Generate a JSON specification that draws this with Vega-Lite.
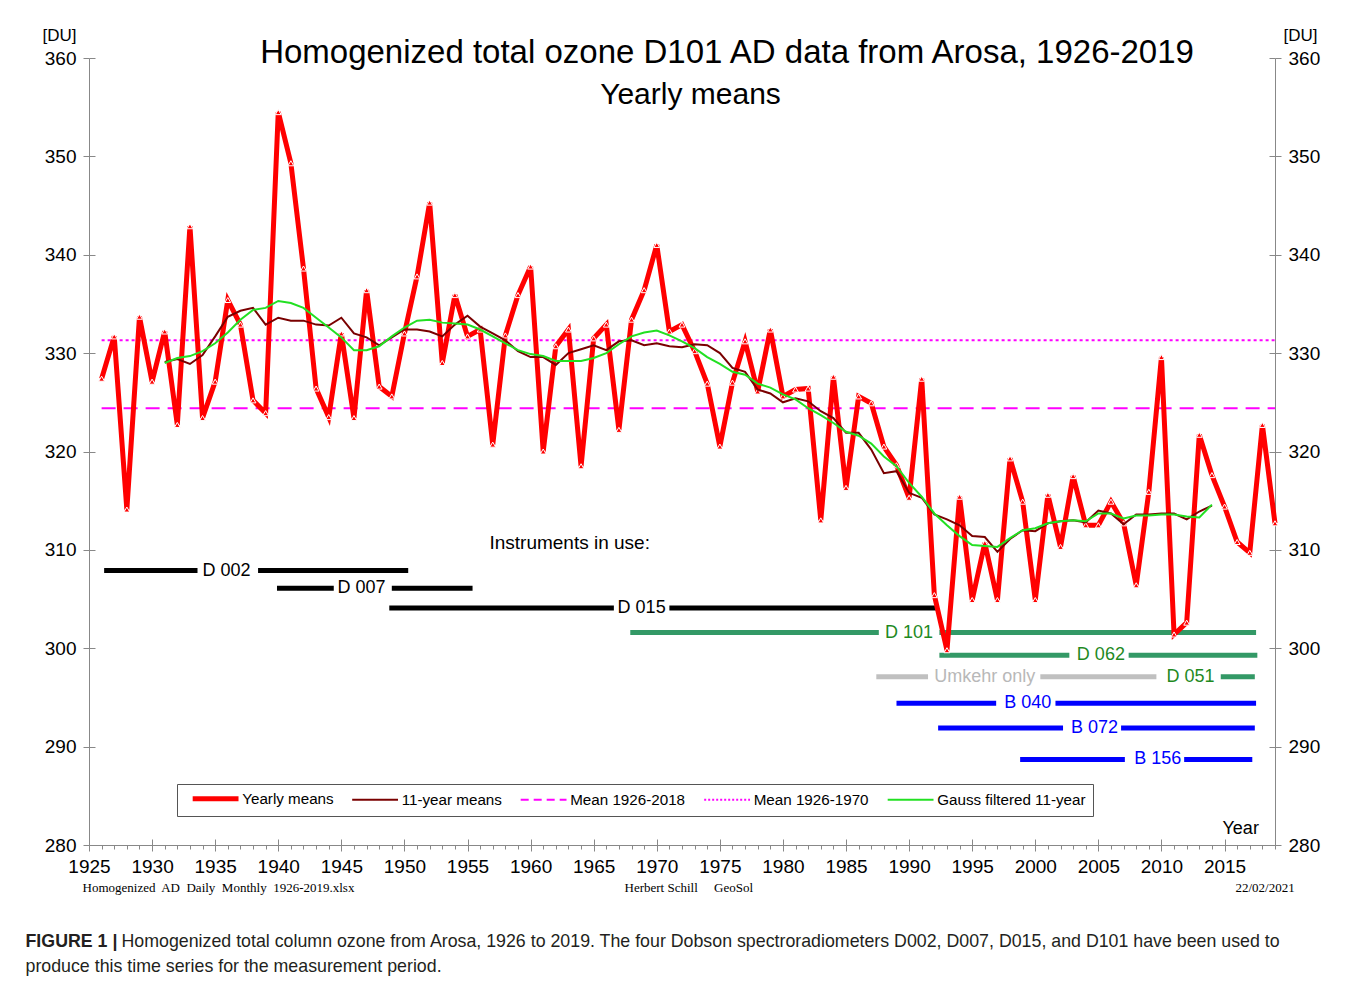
{
  "$schema": "https://vega.github.io/schema/vega-lite/v6.json",
  "width": 1186,
  "height": 787,
  "autosize": {"type": "none"},
  "padding": {"left": 89, "top": 58, "right": 82, "bottom": 137},
  "background": "white",
  "config": {
    "view": {"stroke": null},
    "font": "Liberation Sans",
    "axis": {"grid": false, "domainColor": "#888888", "tickColor": "#888888", "labelColor": "#000000", "titleColor": "#000000", "labelFont": "Liberation Sans", "titleFont": "Liberation Sans", "titleFontWeight": "normal", "domainWidth": 1, "tickWidth": 1, "labelFlush": false}
  },
  "title": {
    "text": "Homogenized total ozone D101 AD data from Arosa, 1926-2019",
    "font": "Liberation Sans",
    "fontSize": 33,
    "fontWeight": "normal",
    "color": "#000000",
    "anchor": "middle",
    "frame": "group",
    "baseline": "alphabetic",
    "offset": -6,
    "dx": 45,
    "dy": 64
  },
  "resolve": {"axis": {"x": "independent", "y": "independent"}},
  "datasets": {
    "ts": [
      {"year":1926,"series":"Yearly means","du":327.4},{"year":1927,"series":"Yearly means","du":331.7},{"year":1928,"series":"Yearly means","du":314.1},{"year":1929,"series":"Yearly means","du":333.7},{"year":1930,"series":"Yearly means","du":327.1},
      {"year":1931,"series":"Yearly means","du":332.2},{"year":1932,"series":"Yearly means","du":322.7},{"year":1933,"series":"Yearly means","du":342.9},{"year":1934,"series":"Yearly means","du":323.4},{"year":1935,"series":"Yearly means","du":327.1},
      {"year":1936,"series":"Yearly means","du":335.4},{"year":1937,"series":"Yearly means","du":332.9},{"year":1938,"series":"Yearly means","du":325.2},{"year":1939,"series":"Yearly means","du":323.9},{"year":1940,"series":"Yearly means","du":354.5},
      {"year":1941,"series":"Yearly means","du":349.3},{"year":1942,"series":"Yearly means","du":338.6},{"year":1943,"series":"Yearly means","du":326.4},{"year":1944,"series":"Yearly means","du":323.5},{"year":1945,"series":"Yearly means","du":332.0},
      {"year":1946,"series":"Yearly means","du":323.4},{"year":1947,"series":"Yearly means","du":336.4},{"year":1948,"series":"Yearly means","du":326.6},{"year":1949,"series":"Yearly means","du":325.6},{"year":1950,"series":"Yearly means","du":332.0},
      {"year":1951,"series":"Yearly means","du":337.8},{"year":1952,"series":"Yearly means","du":345.3},{"year":1953,"series":"Yearly means","du":329.0},{"year":1954,"series":"Yearly means","du":335.9},{"year":1955,"series":"Yearly means","du":331.7},
      {"year":1956,"series":"Yearly means","du":332.4},{"year":1957,"series":"Yearly means","du":320.7},{"year":1958,"series":"Yearly means","du":331.8},{"year":1959,"series":"Yearly means","du":335.9},{"year":1960,"series":"Yearly means","du":338.8},
      {"year":1961,"series":"Yearly means","du":320.0},{"year":1962,"series":"Yearly means","du":330.7},{"year":1963,"series":"Yearly means","du":332.4},{"year":1964,"series":"Yearly means","du":318.5},{"year":1965,"series":"Yearly means","du":331.5},
      {"year":1966,"series":"Yearly means","du":332.9},{"year":1967,"series":"Yearly means","du":322.2},{"year":1968,"series":"Yearly means","du":333.4},{"year":1969,"series":"Yearly means","du":336.4},{"year":1970,"series":"Yearly means","du":341.0},
      {"year":1971,"series":"Yearly means","du":332.2},{"year":1972,"series":"Yearly means","du":332.9},{"year":1973,"series":"Yearly means","du":330.2},{"year":1974,"series":"Yearly means","du":326.9},{"year":1975,"series":"Yearly means","du":320.5},
      {"year":1976,"series":"Yearly means","du":327.0},{"year":1977,"series":"Yearly means","du":331.2},{"year":1978,"series":"Yearly means","du":326.1},{"year":1979,"series":"Yearly means","du":332.4},{"year":1980,"series":"Yearly means","du":325.6},
      {"year":1981,"series":"Yearly means","du":326.3},{"year":1982,"series":"Yearly means","du":326.4},{"year":1983,"series":"Yearly means","du":313.0},{"year":1984,"series":"Yearly means","du":327.6},{"year":1985,"series":"Yearly means","du":316.3},
      {"year":1986,"series":"Yearly means","du":325.6},{"year":1987,"series":"Yearly means","du":324.9},{"year":1988,"series":"Yearly means","du":320.5},{"year":1989,"series":"Yearly means","du":318.6},{"year":1990,"series":"Yearly means","du":315.3},
      {"year":1991,"series":"Yearly means","du":327.4},{"year":1992,"series":"Yearly means","du":305.4},{"year":1993,"series":"Yearly means","du":299.8},{"year":1994,"series":"Yearly means","du":315.4},{"year":1995,"series":"Yearly means","du":304.9},
      {"year":1996,"series":"Yearly means","du":310.7},{"year":1997,"series":"Yearly means","du":304.9},{"year":1998,"series":"Yearly means","du":319.3},{"year":1999,"series":"Yearly means","du":314.9},{"year":2000,"series":"Yearly means","du":304.9},
      {"year":2001,"series":"Yearly means","du":315.6},{"year":2002,"series":"Yearly means","du":310.3},{"year":2003,"series":"Yearly means","du":317.5},{"year":2004,"series":"Yearly means","du":312.5},{"year":2005,"series":"Yearly means","du":312.5},
      {"year":2006,"series":"Yearly means","du":314.9},{"year":2007,"series":"Yearly means","du":312.7},{"year":2008,"series":"Yearly means","du":306.4},{"year":2009,"series":"Yearly means","du":315.9},{"year":2010,"series":"Yearly means","du":329.6},
      {"year":2011,"series":"Yearly means","du":301.4},{"year":2012,"series":"Yearly means","du":302.6},{"year":2013,"series":"Yearly means","du":321.7},{"year":2014,"series":"Yearly means","du":317.6},{"year":2015,"series":"Yearly means","du":314.4},
      {"year":2016,"series":"Yearly means","du":310.8},{"year":2017,"series":"Yearly means","du":309.7},{"year":2018,"series":"Yearly means","du":322.7},{"year":2019,"series":"Yearly means","du":312.7},

      {"year":1931,"series":"11-year means","du":329.1},{"year":1932,"series":"11-year means","du":329.4},{"year":1933,"series":"11-year means","du":328.9},{"year":1934,"series":"11-year means","du":329.8},{"year":1935,"series":"11-year means","du":331.7},
      {"year":1936,"series":"11-year means","du":333.7},{"year":1937,"series":"11-year means","du":334.3},{"year":1938,"series":"11-year means","du":334.6},{"year":1939,"series":"11-year means","du":332.9},{"year":1940,"series":"11-year means","du":333.6},
      {"year":1941,"series":"11-year means","du":333.3},{"year":1942,"series":"11-year means","du":333.3},{"year":1943,"series":"11-year means","du":332.9},{"year":1944,"series":"11-year means","du":332.8},{"year":1945,"series":"11-year means","du":333.6},
      {"year":1946,"series":"11-year means","du":332.0},{"year":1947,"series":"11-year means","du":331.6},{"year":1948,"series":"11-year means","du":330.8},{"year":1949,"series":"11-year means","du":331.6},{"year":1950,"series":"11-year means","du":332.4},
      {"year":1951,"series":"11-year means","du":332.4},{"year":1952,"series":"11-year means","du":332.2},{"year":1953,"series":"11-year means","du":331.7},{"year":1954,"series":"11-year means","du":332.9},{"year":1955,"series":"11-year means","du":333.8},
      {"year":1956,"series":"11-year means","du":332.7},{"year":1957,"series":"11-year means","du":332.0},{"year":1958,"series":"11-year means","du":331.3},{"year":1959,"series":"11-year means","du":330.2},{"year":1960,"series":"11-year means","du":329.6},
      {"year":1961,"series":"11-year means","du":329.6},{"year":1962,"series":"11-year means","du":328.8},{"year":1963,"series":"11-year means","du":330.0},{"year":1964,"series":"11-year means","du":330.4},{"year":1965,"series":"11-year means","du":330.8},
      {"year":1966,"series":"11-year means","du":330.3},{"year":1967,"series":"11-year means","du":331.2},{"year":1968,"series":"11-year means","du":331.3},{"year":1969,"series":"11-year means","du":330.8},{"year":1970,"series":"11-year means","du":331.0},
      {"year":1971,"series":"11-year means","du":330.7},{"year":1972,"series":"11-year means","du":330.6},{"year":1973,"series":"11-year means","du":330.9},{"year":1974,"series":"11-year means","du":330.8},{"year":1975,"series":"11-year means","du":330.0},
      {"year":1976,"series":"11-year means","du":328.5},{"year":1977,"series":"11-year means","du":328.1},{"year":1978,"series":"11-year means","du":326.3},{"year":1979,"series":"11-year means","du":325.9},{"year":1980,"series":"11-year means","du":325.0},
      {"year":1981,"series":"11-year means","du":325.4},{"year":1982,"series":"11-year means","du":325.1},{"year":1983,"series":"11-year means","du":324.1},{"year":1984,"series":"11-year means","du":323.4},{"year":1985,"series":"11-year means","du":321.9},
      {"year":1986,"series":"11-year means","du":321.9},{"year":1987,"series":"11-year means","du":320.2},{"year":1988,"series":"11-year means","du":317.8},{"year":1989,"series":"11-year means","du":318.0},{"year":1990,"series":"11-year means","du":315.8},
      {"year":1991,"series":"11-year means","du":315.3},{"year":1992,"series":"11-year means","du":313.6},{"year":1993,"series":"11-year means","du":313.1},{"year":1994,"series":"11-year means","du":312.5},{"year":1995,"series":"11-year means","du":311.4},
      {"year":1996,"series":"11-year means","du":311.3},{"year":1997,"series":"11-year means","du":309.8},{"year":1998,"series":"11-year means","du":311.1},{"year":1999,"series":"11-year means","du":312.0},{"year":2000,"series":"11-year means","du":311.9},
      {"year":2001,"series":"11-year means","du":312.7},{"year":2002,"series":"11-year means","du":312.9},{"year":2003,"series":"11-year means","du":313.0},{"year":2004,"series":"11-year means","du":312.8},{"year":2005,"series":"11-year means","du":314.0},
      {"year":2006,"series":"11-year means","du":313.7},{"year":2007,"series":"11-year means","du":312.6},{"year":2008,"series":"11-year means","du":313.6},{"year":2009,"series":"11-year means","du":313.6},{"year":2010,"series":"11-year means","du":313.7},
      {"year":2011,"series":"11-year means","du":313.7},{"year":2012,"series":"11-year means","du":313.1},{"year":2013,"series":"11-year means","du":313.9},{"year":2014,"series":"11-year means","du":314.5},

      {"year":1931,"series":"Gauss filtered 11-year","du":329.0},{"year":1932,"series":"Gauss filtered 11-year","du":329.5},{"year":1933,"series":"Gauss filtered 11-year","du":329.7},{"year":1934,"series":"Gauss filtered 11-year","du":330.2},{"year":1935,"series":"Gauss filtered 11-year","du":331.0},
      {"year":1936,"series":"Gauss filtered 11-year","du":332.1},{"year":1937,"series":"Gauss filtered 11-year","du":333.4},{"year":1938,"series":"Gauss filtered 11-year","du":334.4},{"year":1939,"series":"Gauss filtered 11-year","du":334.6},{"year":1940,"series":"Gauss filtered 11-year","du":335.3},
      {"year":1941,"series":"Gauss filtered 11-year","du":335.1},{"year":1942,"series":"Gauss filtered 11-year","du":334.6},{"year":1943,"series":"Gauss filtered 11-year","du":333.6},{"year":1944,"series":"Gauss filtered 11-year","du":332.6},{"year":1945,"series":"Gauss filtered 11-year","du":331.6},
      {"year":1946,"series":"Gauss filtered 11-year","du":330.3},{"year":1947,"series":"Gauss filtered 11-year","du":330.3},{"year":1948,"series":"Gauss filtered 11-year","du":330.7},{"year":1949,"series":"Gauss filtered 11-year","du":331.7},{"year":1950,"series":"Gauss filtered 11-year","du":332.6},
      {"year":1951,"series":"Gauss filtered 11-year","du":333.3},{"year":1952,"series":"Gauss filtered 11-year","du":333.4},{"year":1953,"series":"Gauss filtered 11-year","du":333.1},{"year":1954,"series":"Gauss filtered 11-year","du":333.0},{"year":1955,"series":"Gauss filtered 11-year","du":332.9},
      {"year":1956,"series":"Gauss filtered 11-year","du":332.4},{"year":1957,"series":"Gauss filtered 11-year","du":331.7},{"year":1958,"series":"Gauss filtered 11-year","du":331.0},{"year":1959,"series":"Gauss filtered 11-year","du":330.3},{"year":1960,"series":"Gauss filtered 11-year","du":329.9},
      {"year":1961,"series":"Gauss filtered 11-year","du":329.7},{"year":1962,"series":"Gauss filtered 11-year","du":329.2},{"year":1963,"series":"Gauss filtered 11-year","du":329.2},{"year":1964,"series":"Gauss filtered 11-year","du":329.2},{"year":1965,"series":"Gauss filtered 11-year","du":329.5},
      {"year":1966,"series":"Gauss filtered 11-year","du":330.0},{"year":1967,"series":"Gauss filtered 11-year","du":330.9},{"year":1968,"series":"Gauss filtered 11-year","du":331.7},{"year":1969,"series":"Gauss filtered 11-year","du":332.1},{"year":1970,"series":"Gauss filtered 11-year","du":332.3},
      {"year":1971,"series":"Gauss filtered 11-year","du":331.8},{"year":1972,"series":"Gauss filtered 11-year","du":331.2},{"year":1973,"series":"Gauss filtered 11-year","du":330.5},{"year":1974,"series":"Gauss filtered 11-year","du":329.6},{"year":1975,"series":"Gauss filtered 11-year","du":328.9},
      {"year":1976,"series":"Gauss filtered 11-year","du":328.1},{"year":1977,"series":"Gauss filtered 11-year","du":327.8},{"year":1978,"series":"Gauss filtered 11-year","du":326.9},{"year":1979,"series":"Gauss filtered 11-year","du":326.5},{"year":1980,"series":"Gauss filtered 11-year","du":325.8},
      {"year":1981,"series":"Gauss filtered 11-year","du":325.3},{"year":1982,"series":"Gauss filtered 11-year","du":324.4},{"year":1983,"series":"Gauss filtered 11-year","du":323.7},{"year":1984,"series":"Gauss filtered 11-year","du":322.9},{"year":1985,"series":"Gauss filtered 11-year","du":322.0},
      {"year":1986,"series":"Gauss filtered 11-year","du":321.6},{"year":1987,"series":"Gauss filtered 11-year","du":320.8},{"year":1988,"series":"Gauss filtered 11-year","du":319.5},{"year":1989,"series":"Gauss filtered 11-year","du":318.5},{"year":1990,"series":"Gauss filtered 11-year","du":316.8},
      {"year":1991,"series":"Gauss filtered 11-year","du":315.4},{"year":1992,"series":"Gauss filtered 11-year","du":313.7},{"year":1993,"series":"Gauss filtered 11-year","du":312.5},{"year":1994,"series":"Gauss filtered 11-year","du":311.4},{"year":1995,"series":"Gauss filtered 11-year","du":310.5},
      {"year":1996,"series":"Gauss filtered 11-year","du":310.4},{"year":1997,"series":"Gauss filtered 11-year","du":310.3},{"year":1998,"series":"Gauss filtered 11-year","du":311.2},{"year":1999,"series":"Gauss filtered 11-year","du":312.0},{"year":2000,"series":"Gauss filtered 11-year","du":312.2},
      {"year":2001,"series":"Gauss filtered 11-year","du":312.7},{"year":2002,"series":"Gauss filtered 11-year","du":312.9},{"year":2003,"series":"Gauss filtered 11-year","du":313.0},{"year":2004,"series":"Gauss filtered 11-year","du":312.9},{"year":2005,"series":"Gauss filtered 11-year","du":313.7},
      {"year":2006,"series":"Gauss filtered 11-year","du":313.7},{"year":2007,"series":"Gauss filtered 11-year","du":313.2},{"year":2008,"series":"Gauss filtered 11-year","du":313.5},{"year":2009,"series":"Gauss filtered 11-year","du":313.5},{"year":2010,"series":"Gauss filtered 11-year","du":313.6},
      {"year":2011,"series":"Gauss filtered 11-year","du":313.6},{"year":2012,"series":"Gauss filtered 11-year","du":313.4},{"year":2013,"series":"Gauss filtered 11-year","du":313.3},{"year":2014,"series":"Gauss filtered 11-year","du":314.6}
    ],
    "means": [
      {"series":"Mean 1926-2018","du":324.4,"from":1926,"to":2019},
      {"series":"Mean 1926-1970","du":331.3,"from":1926,"to":2019}
    ],
    "segments": [
      {"inst":"D 002","kind":"old","du":307.9,"from":1926.2,"to":1933.6},
      {"inst":"D 002","kind":"old","du":307.9,"from":1938.4,"to":1950.3},
      {"inst":"D 007","kind":"old","du":306.1,"from":1939.9,"to":1944.4},
      {"inst":"D 007","kind":"old","du":306.1,"from":1949.0,"to":1955.4},
      {"inst":"D 015","kind":"old","du":304.1,"from":1948.8,"to":1966.6},
      {"inst":"D 015","kind":"old","du":304.1,"from":1971.0,"to":1992.2},
      {"inst":"D 101","kind":"dobson","du":301.6,"from":1967.9,"to":1987.6},
      {"inst":"D 101","kind":"dobson","du":301.6,"from":1992.4,"to":2017.5},
      {"inst":"D 062","kind":"dobson","du":299.3,"from":1992.4,"to":2002.7},
      {"inst":"D 062","kind":"dobson","du":299.3,"from":2007.4,"to":2017.6},
      {"inst":"Umkehr only","kind":"umkehr","du":297.1,"from":1987.4,"to":1991.5},
      {"inst":"Umkehr only","kind":"umkehr","du":297.1,"from":2000.4,"to":2009.6},
      {"inst":"D 051","kind":"dobson","du":297.1,"from":2014.7,"to":2017.4},
      {"inst":"B 040","kind":"brewer","du":294.4,"from":1989.0,"to":1996.9},
      {"inst":"B 040","kind":"brewer","du":294.4,"from":2001.6,"to":2017.5},
      {"inst":"B 072","kind":"brewer","du":291.9,"from":1992.3,"to":2002.2},
      {"inst":"B 072","kind":"brewer","du":291.9,"from":2006.8,"to":2017.4},
      {"inst":"B 156","kind":"brewer","du":288.7,"from":1998.8,"to":2007.1},
      {"inst":"B 156","kind":"brewer","du":288.7,"from":2011.8,"to":2017.2}
    ],
    "labels": [
      {"inst":"D 002","kind":"old","year":1935.9,"du":307.9},
      {"inst":"D 007","kind":"old","year":1946.6,"du":306.1},
      {"inst":"D 015","kind":"old","year":1968.8,"du":304.1},
      {"inst":"D 101","kind":"dobson","year":1990.0,"du":301.6},
      {"inst":"D 062","kind":"dobson","year":2005.2,"du":299.3},
      {"inst":"Umkehr only","kind":"umkehr","year":1996.0,"du":297.1},
      {"inst":"D 051","kind":"dobson","year":2012.3,"du":297.1},
      {"inst":"B 040","kind":"brewer","year":1999.4,"du":294.4},
      {"inst":"B 072","kind":"brewer","year":2004.7,"du":291.9},
      {"inst":"B 156","kind":"brewer","year":2009.7,"du":288.7}
    ],
    "heading": [
      {"text":"Instruments in use:","year":1963.1,"du":310.7}
    ]
  },
  "layer": [
    {
      "data": {"name": "segments"},
      "mark": {"type": "rule", "strokeWidth": 5},
      "encoding": {
        "x": {"field": "from", "type": "quantitative", "scale": {"domain": [1925, 2019], "nice": false, "zero": false},
          "axis": {"orient": "bottom", "values": [1926,1927,1928,1929,1931,1932,1933,1934,1936,1937,1938,1939,1941,1942,1943,1944,1946,1947,1948,1949,1951,1952,1953,1954,1956,1957,1958,1959,1961,1962,1963,1964,1966,1967,1968,1969,1971,1972,1973,1974,1976,1977,1978,1979,1981,1982,1983,1984,1986,1987,1988,1989,1991,1992,1993,1994,1996,1997,1998,1999,2001,2002,2003,2004,2006,2007,2008,2009,2011,2012,2013,2014,2016,2017,2018,2019],
            "labels": false, "domain": true, "ticks": true, "tickSize": 4,
            "title": "Homogenized\u00a0 AD\u00a0 Daily\u00a0 Monthly\u00a0 1926-2019.xlsx", "titleFont": "Liberation Serif", "titleFontSize": 13, "titleX": -7, "titleY": 46, "titleAlign": "left", "titleBaseline": "alphabetic"}},
        "x2": {"field": "to"},
        "y": {"field": "du", "type": "quantitative", "scale": {"domain": [280, 360], "nice": false, "zero": false},
          "axis": {"orient": "left", "values": [280,290,300,310,320,330,340,350,360], "tickSize": 6, "labelFontSize": 19, "labelPadding": 7, "domain": true,
            "title": "[DU]", "titleAngle": 0, "titleFontSize": 17, "titleX": -47, "titleY": -18, "titleAlign": "left", "titleBaseline": "alphabetic"}},
        "stroke": {"field": "kind", "type": "nominal", "scale": {"domain": ["old","dobson","umkehr","brewer"], "range": ["#000000","#339966","#c0c0c0","#0000ff"]}, "legend": null}
      }
    },
    {
      "data": {"name": "labels"},
      "mark": {"type": "text", "fontSize": 18, "font": "Liberation Sans", "align": "center", "baseline": "middle"},
      "encoding": {
        "x": {"field": "year", "type": "quantitative", "scale": {"domain": [1925, 2019], "nice": false, "zero": false},
          "axis": {"orient": "bottom", "values": [1925,1930,1935,1940,1945,1950,1955,1960,1965,1970,1975,1980,1985,1990,1995,2000,2005,2010,2015], "labels": false, "domain": false, "ticks": true, "tickSize": -6,
            "title": "Herbert Schill\u00a0\u00a0\u00a0\u00a0 GeoSol", "titleFont": "Liberation Serif", "titleFontSize": 13, "titleX": 535, "titleY": 46, "titleAlign": "left", "titleBaseline": "alphabetic"}},
        "y": {"field": "du", "type": "quantitative", "scale": {"domain": [280, 360], "nice": false, "zero": false},
          "axis": {"orient": "right", "values": [280,290,300,310,320,330,340,350,360], "tickSize": 6, "labelFontSize": 19, "labelPadding": 7, "domain": true,
            "title": "[DU]", "titleAngle": 0, "titleFontSize": 17, "titleX": 8, "titleY": -18, "titleAlign": "left", "titleBaseline": "alphabetic"}},
        "text": {"field": "inst"},
        "fill": {"field": "kind", "type": "nominal", "scale": {"domain": ["old","dobson","umkehr","brewer"], "range": ["#000000","#1f8a1f","#b8b8b8","#0000ff"]}, "legend": null}
      }
    },
    {
      "data": {"name": "heading"},
      "mark": {"type": "text", "fontSize": 19, "font": "Liberation Sans", "align": "center", "baseline": "middle", "color": "#000000"},
      "encoding": {
        "x": {"field": "year", "type": "quantitative", "scale": {"domain": [1925, 2019], "nice": false, "zero": false},
          "axis": {"orient": "top", "labels": false, "domain": false, "ticks": false,
            "title": "Yearly means", "titleFontSize": 30, "titleX": 601, "titleY": 45, "titleAlign": "center", "titleBaseline": "alphabetic"}},
        "y": {"field": "du", "type": "quantitative", "scale": {"domain": [280, 360], "nice": false, "zero": false}, "axis": null},
        "text": {"field": "text"}
      }
    },
    {
      "data": {"name": "means"},
      "mark": {"type": "rule", "strokeWidth": 2},
      "encoding": {
        "x": {"field": "from", "type": "quantitative", "scale": {"domain": [1925, 2019], "nice": false, "zero": false},
          "axis": {"orient": "bottom", "values": [1925,1930,1935,1940,1945,1950,1955,1960,1965,1970,1975,1980,1985,1990,1995,2000,2005,2010,2015], "format": "d", "labels": true, "labelFontSize": 19, "labelPadding": 6, "labelFlush": false, "domain": false, "ticks": true, "tickSize": 6,
            "title": "Year", "titleFontSize": 18, "titleX": 1133, "titleY": -12, "titleAlign": "left", "titleBaseline": "alphabetic"}},
        "x2": {"field": "to"},
        "y": {"field": "du", "type": "quantitative", "scale": {"domain": [280, 360], "nice": false, "zero": false},
          "axis": {"orient": "left", "values": [280,290,300,310,320,330,340,350,360], "labels": false, "domain": false, "tickSize": -6, "title": null}},
        "color": {"field": "series", "type": "nominal",
          "scale": {"domain": ["Yearly means","11-year means","Mean 1926-2018","Mean 1926-1970","Gauss filtered 11-year"], "range": ["#ff0000","#7a0000","#ff00ff","#ff00ff","#22e022"]},
          "legend": {"orient": "none", "legendX": 88, "legendY": 726, "direction": "horizontal", "title": null,
            "symbolType": "stroke", "symbolSize": 2100, "symbolStrokeWidth": 2, "labelFontSize": 15.2, "labelFont": "Liberation Sans", "labelColor": "#000000", "labelOffset": 19,
            "columnPadding": 9.5, "padding": 7, "strokeColor": "#555555", "fillColor": "#ffffff", "symbolOffset": 24,
            "encode": {"symbols": {"update": {
              "strokeDash": {"signal": "datum.value === 'Mean 1926-2018' ? [8,5] : datum.value === 'Mean 1926-1970' ? [2,2] : [1,0]"},
              "strokeWidth": {"signal": "datum.value === 'Yearly means' ? 5 : 2"},
              "fill": {"value": "transparent"}}}}}},
        "strokeDash": {"field": "series", "type": "nominal", "scale": {"domain": ["Mean 1926-2018","Mean 1926-1970"], "range": [[14,8],[3,3]]}, "legend": null}
      }
    },
    {
      "data": {"name": "ts"},
      "transform": [{"filter": "datum.series === 'Yearly means'"}],
      "mark": {"type": "line", "strokeWidth": 5},
      "encoding": {
        "x": {"field": "year", "type": "quantitative", "scale": {"domain": [1925, 2019], "nice": false, "zero": false},
          "axis": {"orient": "bottom", "labels": false, "domain": false, "ticks": false,
            "title": "22/02/2021", "titleFont": "Liberation Serif", "titleFontSize": 13, "titleX": 1146, "titleY": 46, "titleAlign": "left", "titleBaseline": "alphabetic"}},
        "y": {"field": "du", "type": "quantitative", "scale": {"domain": [280, 360], "nice": false, "zero": false},
          "axis": {"orient": "right", "values": [280,290,300,310,320,330,340,350,360], "labels": false, "domain": false, "tickSize": -6, "title": null}},
        "color": {"field": "series", "type": "nominal",
          "scale": {"domain": ["Yearly means","11-year means","Mean 1926-2018","Mean 1926-1970","Gauss filtered 11-year"], "range": ["#ff0000","#7a0000","#ff00ff","#ff00ff","#22e022"]}}
      }
    },
    {
      "data": {"name": "ts"},
      "transform": [{"filter": "datum.series === 'Yearly means'"}],
      "mark": {"type": "point", "shape": "triangle-up", "filled": true, "size": 34, "stroke": "#ffffff", "strokeWidth": 1, "opacity": 1},
      "encoding": {
        "x": {"field": "year", "type": "quantitative", "scale": {"domain": [1925, 2019], "nice": false, "zero": false},
          "axis": {"orient": "bottom", "labels": false, "domain": false, "ticks": false,
            "title": "FIGURE 1 |", "titleFontSize": 17.8, "titleFontWeight": "bold", "titleColor": "#231f20", "titleX": -64, "titleY": 101, "titleAlign": "left", "titleBaseline": "alphabetic"}},
        "y": {"field": "du", "type": "quantitative", "scale": {"domain": [280, 360], "nice": false, "zero": false}, "axis": null},
        "color": {"field": "series", "type": "nominal",
          "scale": {"domain": ["Yearly means","11-year means","Mean 1926-2018","Mean 1926-1970","Gauss filtered 11-year"], "range": ["#ff0000","#7a0000","#ff00ff","#ff00ff","#22e022"]}}
      }
    },
    {
      "data": {"name": "ts"},
      "transform": [{"filter": "datum.series === '11-year means'"}],
      "mark": {"type": "line", "strokeWidth": 2},
      "encoding": {
        "x": {"field": "year", "type": "quantitative", "scale": {"domain": [1925, 2019], "nice": false, "zero": false},
          "axis": {"orient": "bottom", "labels": false, "domain": false, "ticks": false,
            "title": "Homogenized total column ozone from Arosa, 1926 to 2019. The four Dobson spectroradiometers D002, D007, D015, and D101 have been used to", "titleFontSize": 17.8, "titleColor": "#231f20", "titleX": 32, "titleY": 101, "titleAlign": "left", "titleBaseline": "alphabetic"}},
        "y": {"field": "du", "type": "quantitative", "scale": {"domain": [280, 360], "nice": false, "zero": false}, "axis": null},
        "color": {"field": "series", "type": "nominal",
          "scale": {"domain": ["Yearly means","11-year means","Mean 1926-2018","Mean 1926-1970","Gauss filtered 11-year"], "range": ["#ff0000","#7a0000","#ff00ff","#ff00ff","#22e022"]}}
      }
    },
    {
      "data": {"name": "ts"},
      "transform": [{"filter": "datum.series === 'Gauss filtered 11-year'"}],
      "mark": {"type": "line", "strokeWidth": 2},
      "encoding": {
        "x": {"field": "year", "type": "quantitative", "scale": {"domain": [1925, 2019], "nice": false, "zero": false},
          "axis": {"orient": "bottom", "labels": false, "domain": false, "ticks": false,
            "title": "produce this time series for the measurement period.", "titleFontSize": 17.8, "titleColor": "#231f20", "titleX": -64, "titleY": 126, "titleAlign": "left", "titleBaseline": "alphabetic"}},
        "y": {"field": "du", "type": "quantitative", "scale": {"domain": [280, 360], "nice": false, "zero": false}, "axis": null},
        "color": {"field": "series", "type": "nominal",
          "scale": {"domain": ["Yearly means","11-year means","Mean 1926-2018","Mean 1926-1970","Gauss filtered 11-year"], "range": ["#ff0000","#7a0000","#ff00ff","#ff00ff","#22e022"]}}
      }
    }
  ]
}
